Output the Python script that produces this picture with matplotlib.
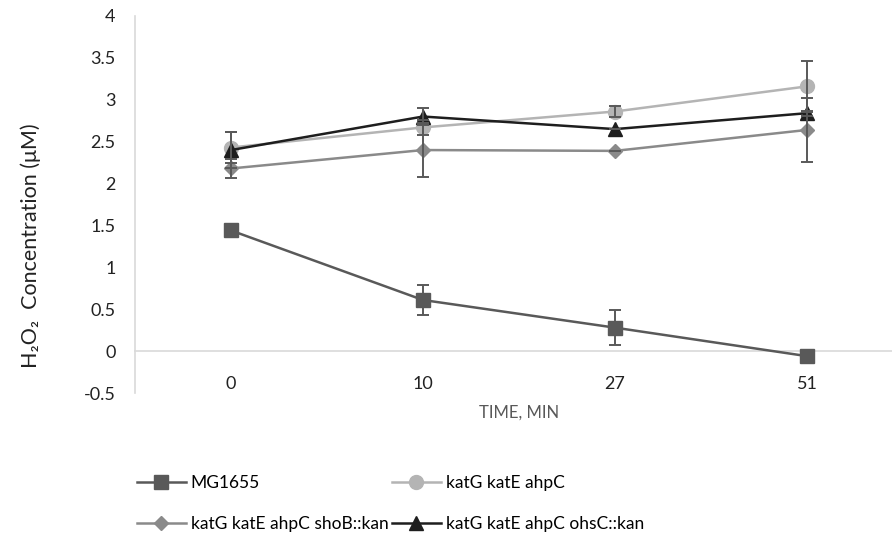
import numpy as np
from matplotlib import pyplot as plt

plt.rcParams['font.family'] = ['Lato', 'DejaVu Sans']

times = ['0', '10', '27', '51']

mg1655 = [1.44, 0.61, 0.28, -0.06]
mg1655_err = [0.02, 0.18, 0.21, 0.0]

katg = [2.43, 2.67, 2.86, 3.16]
katg_err = [0.18, 0.09, 0.07, 0.30]

shob = [2.18, 2.40, 2.39, 2.64]
shob_err = [0.11, 0.32, 0.0, 0.38]

ohsc = [2.40, 2.80, 2.65, 2.84]
ohsc_err = [0.22, 0.10, 0.0, 0.03]

names = ['MG1655', 'katG katE ahpC', 'katG katE ahpC shoB::kan', 'katG katE ahpC ohsC::kan']

fig = plt.figure(figsize=(8.92, 5.42), dpi=100)
ax = fig.add_axes([135 / 892, 149 / 542, 768 / 892, 377 / 542])

x = np.arange(len(times))
series = [
    (mg1655, mg1655_err, '#595959', 's', 9.5),
    (katg, katg_err, '#b4b4b4', 'o', 10),
    (shob, shob_err, '#8a8a8a', 'D', 7.5),
    (ohsc, ohsc_err, '#1e1e1e', '^', 10),
]

handles = []
for (vals, err, col, mk, ms), name in zip(series, names):
    line, = ax.plot(x, vals, color=col, lw=1.8, marker=mk, markersize=ms,
                    markerfacecolor=col, markeredgecolor=col, label=name, zorder=3)
    ax.errorbar(x, vals, yerr=err, fmt='none', ecolor='#595959', elinewidth=1.4,
                capsize=4.5, capthick=1.4, zorder=4)
    handles.append(line)

ax.set_xlim(-0.5, 3.5)
ax.set_ylim(-0.5, 4)
ax.set_yticks(np.arange(-0.5, 4.01, 0.5))
ax.set_yticklabels(['-0.5', '0', '0.5', '1', '1.5', '2', '2.5', '3', '3.5', '4'])
ax.set_xticks(x)
ax.set_xticklabels(times)

for s in ['top', 'right']:
    ax.spines[s].set_visible(False)
ax.spines['left'].set_color('#d9d9d9')
ax.spines['left'].set_linewidth(1.2)
ax.spines['bottom'].set_position(('data', 0))
ax.spines['bottom'].set_color('#d9d9d9')
ax.spines['bottom'].set_linewidth(1.2)
ax.tick_params(axis='y', length=0, pad=14, labelsize=13, labelcolor='#222222')
ax.tick_params(axis='x', length=0, pad=18, labelsize=13, labelcolor='#222222')

ax.set_xlabel('TIME, MIN', fontsize=12, color='#595959')
ax.xaxis.set_label_coords(384 / 768, -12 / 377)
ax.set_ylabel('H₂O₂  Concentration (μM)', fontsize=15.5, color='#222222')
ax.yaxis.set_label_coords(-94 / 768, 0.39)

# legend fills row by row like the original
order = [0, 2, 1, 3]
fig.legend(handles=[handles[i] for i in order], loc='upper left',
           bbox_to_anchor=(137 / 892, 1 - 475 / 542),
           ncol=2, frameon=False, fontsize=12.5, handlelength=2.8, handletextpad=0.3,
           columnspacing=0.2, labelspacing=1.45, borderaxespad=0, borderpad=0)

fig.savefig('out.png', dpi=100)
